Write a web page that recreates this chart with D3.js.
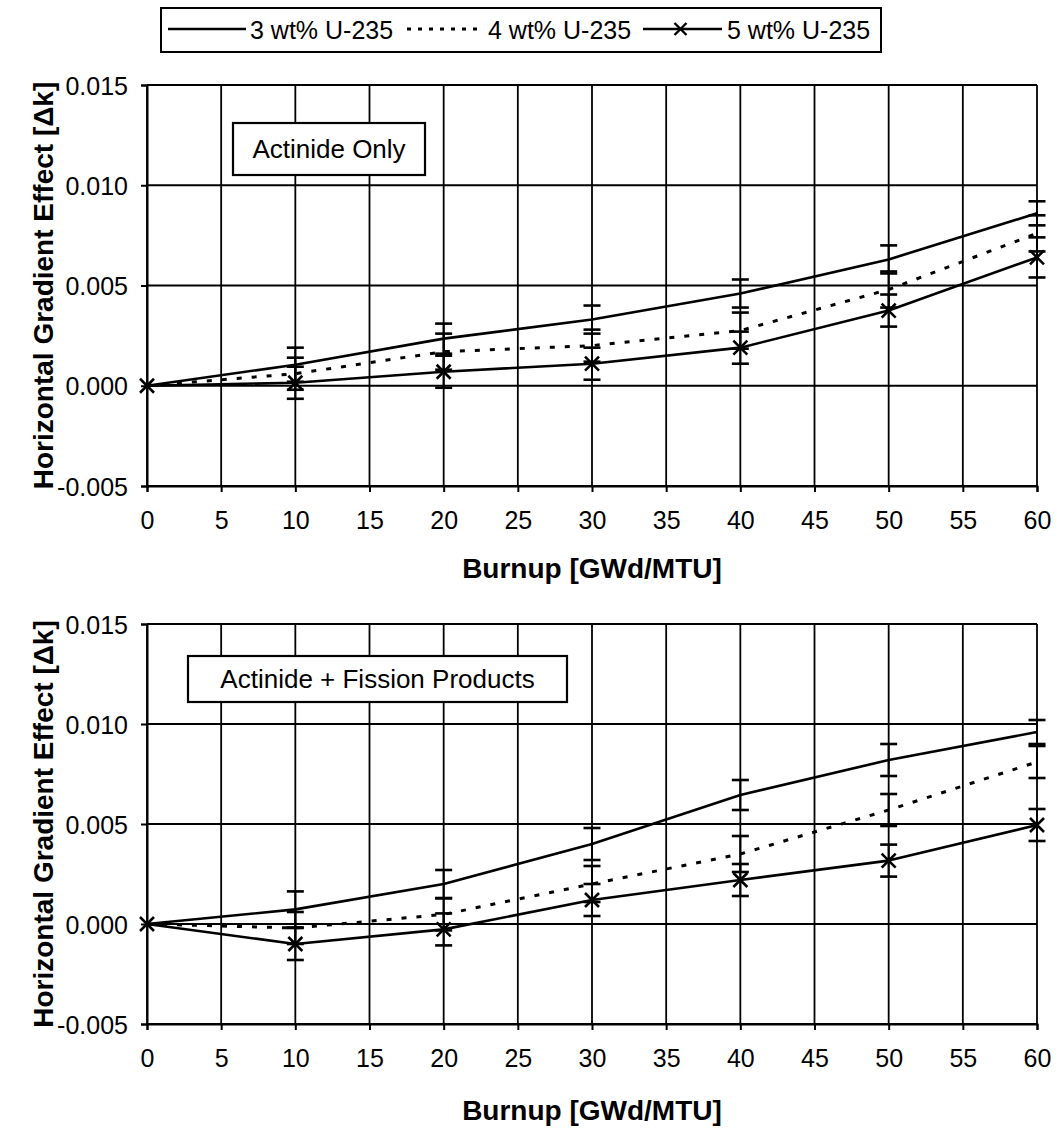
<!DOCTYPE html>
<html>
<head>
<meta charset="utf-8">
<script src="https://cdn.jsdelivr.net/npm/d3@7/dist/d3.min.js"></script>
<style>
  html, body { margin: 0; padding: 0; background: #fff; }
  svg { display: block; font-family: "Liberation Sans", Arial, sans-serif; }
</style>
</head>
<body>
<svg id="chart" width="1057" height="1142"></svg>
<script>
// ---------- data ----------
const burnup = [0, 10, 20, 30, 40, 50, 60];
const xTicks = [0, 5, 10, 15, 20, 25, 30, 35, 40, 45, 50, 55, 60];
const yTicks = [-0.005, 0.000, 0.005, 0.010, 0.015];
const yTickLabels = ["-0.005", "0.000", "0.005", "0.010", "0.015"];
const seriesNames = ["3 wt% U-235", "4 wt% U-235", "5 wt% U-235"];

// Top panel: Actinide Only
const topU3 = [0, 0.00105, 0.00235, 0.0033, 0.0046, 0.0063, 0.0086];
const topU3Err = [0, 0.00085, 0.00075, 0.0007, 0.0007, 0.0007, 0.0006];
const topU4 = [0, 0.0006, 0.0017, 0.0020, 0.00275, 0.0048, 0.0076];
const topU4Err = [0, 0.0008, 0.0009, 0.0008, 0.0009, 0.0009, 0.0009];
const topU5 = [0, 0.00015, 0.0007, 0.0011, 0.0019, 0.00375, 0.0064];
const topU5Err = [0, 0.0008, 0.0008, 0.0008, 0.0008, 0.0008, 0.0010];

// Bottom panel: Actinide + Fission Products
const botU3 = [0, 0.00073, 0.0020, 0.0040, 0.00645, 0.0082, 0.0096];
const botU3Err = [0, 0.0009, 0.0007, 0.0008, 0.00075, 0.0008, 0.0006];
const botU4 = [0, -0.0002, 0.00048, 0.0020, 0.0035, 0.0057, 0.0081];
const botU4Err = [0, 0.0008, 0.0008, 0.0009, 0.0009, 0.0008, 0.0008];
const botU5 = [0, -0.0010, -0.00027, 0.0012, 0.0022, 0.00317, 0.00495];
const botU5Err = [0, 0.0008, 0.0008, 0.0008, 0.0008, 0.0008, 0.0008];

const panels = [
  { label: "Actinide Only", top: 85, bottom: 486, xLabelY: 520, xTitleY: 568,
    box: { x: 233, y: 123, w: 192, h: 52 },
    series: [[topU3, topU3Err], [topU4, topU4Err], [topU5, topU5Err]] },
  { label: "Actinide + Fission Products", top: 624, bottom: 1024, xLabelY: 1058, xTitleY: 1110,
    box: { x: 188, y: 656, w: 379, h: 46 },
    series: [[botU3, botU3Err], [botU4, botU4Err], [botU5, botU5Err]] }
];

// ---------- drawing ----------
const svg = d3.select("#chart");
const left = 147, right = 1037;
const x = d3.scaleLinear().domain([0, 60]).range([left, right]);
const styles = [
  { dash: null, marker: false },
  { dash: "5,10", marker: false },
  { dash: null, marker: true }
];

function drawX(g, cx, cy, s, w) {
  g.append("path")
    .attr("d", `M${cx - s},${cy - s}L${cx + s},${cy + s}M${cx - s},${cy + s}L${cx + s},${cy - s}`)
    .attr("stroke", "#000").attr("stroke-width", w).attr("fill", "none");
}

panels.forEach(p => {
  const y = d3.scaleLinear().domain([-0.005, 0.015]).range([p.bottom, p.top]);
  const g = svg.append("g");

  // gridlines
  g.selectAll(".vg").data(xTicks).enter().append("line")
    .attr("x1", d => x(d)).attr("x2", d => x(d))
    .attr("y1", y(0.015)).attr("y2", y(-0.005))
    .attr("stroke", "#000").attr("stroke-width", 1.8);
  g.selectAll(".hg").data(yTicks).enter().append("line")
    .attr("x1", x(0)).attr("x2", x(60))
    .attr("y1", d => y(d)).attr("y2", d => y(d))
    .attr("stroke", "#000").attr("stroke-width", 1.8);

  // axes
  const ya = d3.axisLeft(y).tickValues(yTicks).tickSize(6).tickPadding(13)
    .tickFormat((d, i) => yTickLabels[i]);
  const yg = g.append("g").attr("transform", `translate(${left},0)`).call(ya);
  yg.select(".domain").attr("stroke-width", 2);
  yg.selectAll(".tick line").attr("stroke-width", 2);
  yg.selectAll("text").attr("font-size", 25).attr("font-family", "Liberation Sans, Arial, sans-serif")
    .attr("fill", "#000").attr("dy", "0.36em");

  const xa = d3.axisBottom(x).tickValues(xTicks).tickSize(6).tickPadding(0)
    .tickFormat(d3.format("d"));
  const xg = g.append("g").attr("transform", `translate(0,${p.bottom})`).call(xa);
  xg.select(".domain").attr("stroke-width", 2);
  xg.selectAll(".tick line").attr("stroke-width", 2);
  xg.selectAll("text").attr("font-size", 25).attr("font-family", "Liberation Sans, Arial, sans-serif")
    .attr("fill", "#000").attr("y", p.xLabelY - p.bottom).attr("dy", "0.36em");

  // series lines
  p.series.forEach((s, si) => {
    const vals = s[0];
    const line = d3.line().x((d, i) => x(burnup[i])).y(d => y(d));
    const path = g.append("path").datum(vals).attr("d", line)
      .attr("fill", "none").attr("stroke", "#000").attr("stroke-width", 2.6)
      .attr("stroke-linejoin", "round");
    if (styles[si].dash) path.attr("stroke-dasharray", styles[si].dash).attr("stroke-width", 3);
  });

  // error bars
  p.series.forEach((s, si) => {
    const vals = s[0], errs = s[1];
    vals.forEach((v, i) => {
      if (!errs[i]) return;
      const cx = x(burnup[i]);
      g.append("line").attr("x1", cx).attr("x2", cx)
        .attr("y1", y(v - errs[i])).attr("y2", y(v + errs[i]))
        .attr("stroke", "#000").attr("stroke-width", 2);
      [v - errs[i], v + errs[i]].forEach(e => {
        g.append("line").attr("x1", cx - 8.5).attr("x2", cx + 8.5)
          .attr("y1", y(e)).attr("y2", y(e))
          .attr("stroke", "#000").attr("stroke-width", 2.6);
      });
    });
  });

  // markers
  p.series.forEach((s, si) => {
    if (!styles[si].marker) return;
    s[0].forEach((v, i) => drawX(g, x(burnup[i]), y(v), 7, 2.6));
  });

  // annotation box
  g.append("rect").attr("x", p.box.x).attr("y", p.box.y)
    .attr("width", p.box.w).attr("height", p.box.h)
    .attr("fill", "#fff").attr("stroke", "#000").attr("stroke-width", 2.2);
  g.append("text").attr("x", p.box.x + p.box.w / 2).attr("y", p.box.y + p.box.h / 2)
    .attr("text-anchor", "middle").attr("dy", "0.36em")
    .attr("font-size", 26).text(p.label);

  // axis titles
  g.append("text").attr("x", (left + right) / 2).attr("y", p.xTitleY)
    .attr("text-anchor", "middle").attr("dy", "0.36em")
    .attr("font-size", 28).attr("font-weight", "bold")
    .text("Burnup [GWd/MTU]");
  const yc = (p.top + p.bottom) / 2;
  g.append("text").attr("transform", `translate(43,${yc}) rotate(-90)`)
    .attr("text-anchor", "middle").attr("dy", "0.36em")
    .attr("font-size", 28).attr("font-weight", "bold")
    .text("Horizontal Gradient Effect [\u0394k]");
});

// ---------- legend ----------
const lg = svg.append("g");
lg.append("rect").attr("x", 161).attr("y", 8).attr("width", 720).attr("height", 44)
  .attr("fill", "#fff").attr("stroke", "#000").attr("stroke-width", 2);
const legendItems = [
  { x1: 168, x2: 246, tx: 250 },
  { x1: 407, x2: 482, tx: 488 },
  { x1: 643, x2: 722, tx: 727 }
];
legendItems.forEach((it, i) => {
  const ln = lg.append("line").attr("x1", it.x1).attr("x2", it.x2).attr("y1", 29).attr("y2", 29)
    .attr("stroke", "#000").attr("stroke-width", i === 1 ? 3 : 2.4);
  if (i === 1) ln.attr("stroke-dasharray", "4,7");
  if (i === 2) drawX(lg, (it.x1 + it.x2) / 2 - 2, 29, 6, 2.4);
  lg.append("text").attr("x", it.tx).attr("y", 30).attr("dy", "0.36em")
    .attr("font-size", 25).text(seriesNames[i]);
});
</script>
</body>
</html>
